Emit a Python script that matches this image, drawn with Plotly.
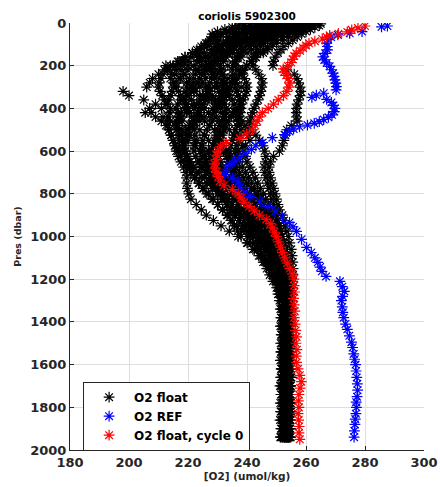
import plotly.graph_objects as go

# shared pressure levels (dbar) for the float cycles
PRES_FLOAT = [4, 12, 20, 30, 40, 52, 65, 80, 95, 110,
              125, 140, 160, 180, 200, 220, 240, 260, 280, 300,
              320, 340, 360, 380, 400, 420, 440, 460, 480, 500,
              525, 550, 575, 600, 625, 650, 675, 700, 725, 750,
              775, 800, 825, 850, 875, 900, 925, 950, 975, 1000,
              1030, 1060, 1090, 1120, 1150, 1180, 1210, 1240, 1270, 1300,
              1340, 1380, 1420, 1460, 1500, 1540, 1580, 1620, 1660, 1700,
              1740, 1780, 1820, 1860, 1900, 1940]

# O2 float cycles (umol/kg), one list per cycle
FLOAT_C01 = [265, 264.5, 263, 261.5, 260, 258.5, 257, 255.5, 254, 252.5,
             251.5, 250.5, 249.5, 249, 248.8, 253.5, 256, 257, 257.5, 258,
             258.2, 258, 257.5, 257, 256.8, 256.7, 256.8, 257, 255, 253.5,
             253, 252.5, 252, 251, 249, 248, 247.5, 247.5, 248, 248.5,
             249, 249.5, 250, 250.5, 251, 252, 252.5, 253, 253.5, 254,
             254.5, 255, 255.3, 255.5, 255.6, 255.6, 255.5, 255.4, 255.3, 255.2,
             255, 255.1, 254.9, 255, 255.2, 255, 254.8, 254.9, 255, 254.8,
             254.7, 254.9, 254.8, 254.6, 254.7, 254.5]
FLOAT_C02 = [258, 257, 255.5, 254, 252.5, 250.5, 248.5, 247, 245.5, 244.5,
             243.5, 243, 242.2, 241.8, 242, 243, 244, 245, 245.2, 245,
             244.7, 244.3, 243.8, 243, 242.4, 241.8, 241.3, 241, 241, 241.8,
             243, 244.3, 245.4, 246, 246.4, 246.2, 245.8, 246, 246.4, 246.9,
             247.4, 248, 248.5, 249, 249.5, 250, 250.5, 251, 251.5, 252,
             252.5, 253, 253.5, 253.9, 254.2, 254.4, 254.5, 254.5, 254.4, 254.3,
             254.2, 254.3, 254.1, 254.2, 254.3, 254.1, 254, 254.2, 254.1, 253.9,
             254, 253.9, 254.1, 253.8, 254, 253.9]
FLOAT_C03 = [255, 254, 252.5, 250.5, 248.5, 246.5, 244.5, 242, 240.5, 239.5,
             238.5, 237.8, 236.8, 236, 235.3, 235, 235.2, 235.6, 236, 236.2,
             236.5, 237, 237.5, 237.8, 238, 237.8, 237.4, 237, 236.5, 236,
             235.5, 235, 234.5, 234, 234.5, 235.3, 236.2, 237.5, 238.7, 240,
             241.5, 243, 244, 245, 246, 247, 247.8, 248.5, 249.3, 250,
             250.7, 251.4, 252.2, 252.7, 253.1, 253.4, 253.5, 253.6, 253.7, 253.8,
             253.8, 253.7, 253.9, 253.8, 253.6, 253.8, 253.7, 253.5, 253.7, 253.6,
             253.4, 253.6, 253.5, 253.3, 253.5, 253.4]
FLOAT_C04 = [250, 249, 247.5, 245.5, 243.5, 241.5, 239.5, 237.5, 236.5, 235.5,
             234.3, 233, 231.5, 230, 228.5, 228, 228.3, 229, 229.6, 230,
             230.5, 231, 231.7, 232.3, 233, 232.8, 232.2, 231.5, 230.8, 230.2,
             229.5, 229, 228.5, 228, 228.6, 229.4, 230.4, 231.6, 233, 234.5,
             236, 237.8, 239, 240.3, 241.5, 242.8, 243.8, 245, 246, 247,
             248, 249, 249.8, 250.5, 251, 251.6, 252, 252.4, 252.7, 252.9,
             253, 252.9, 253.1, 253, 252.8, 253, 252.9, 252.8, 253, 252.8,
             252.7, 252.9, 252.8, 252.6, 252.8, 252.7]
FLOAT_C05 = [246, 245, 243.5, 241.5, 239.5, 237.5, 235.5, 233.5, 232, 230.5,
             228, 225.5, 223.5, 220, 218, 216, 214.5, 214, 215, 216,
             216.8, 217.5, 218.4, 219.2, 220, 220.6, 221.2, 221.8, 222, 222.2,
             222.4, 222.2, 222, 222, 222.6, 223.4, 224.5, 226, 227.5, 229,
             230.5, 232, 233.5, 235, 236.5, 238, 239.3, 240.5, 241.8, 243,
             244.5, 246, 247.3, 248.3, 249.2, 250, 250.8, 251.2, 251.5, 251.8,
             252, 252.1, 251.9, 252, 252.2, 251.9, 252.1, 252, 251.8, 252,
             252.1, 251.9, 252, 251.8, 252, 251.9]
FLOAT_C06 = [241, 239, 237, 235, 233, 231, 229, 227.5, 226.5, 225.5,
             224, 223, 221, 218, 215, 213, 211.5, 210.8, 210.2, 210,
             210.5, 211.2, 212, 213, 214, 213.8, 213.3, 213, 213.2, 213.6,
             214.3, 215, 215.5, 216, 216.8, 217.6, 218.5, 219.3, 219.5, 219.6,
             219.8, 220.3, 221, 222.8, 224.5, 226.2, 228.6, 231.2, 234, 237,
             240, 242, 244, 245.5, 246.7, 247.7, 248.8, 250, 250.5, 251,
             251.3, 251.5, 251.3, 251.6, 251.4, 251.5, 251.3, 251.6, 251.4, 251.2,
             251.5, 251.3, 251.4, 251.2, 251.5, 251.3]
FLOAT_C07 = [243, 241, 238.5, 236, 234, 231.5, 229.5, 227.5, 226, 224.5,
             223, 221.5, 219, 216.5, 214, 212, 210, 208, 207, 206,
             198, 200, 205, 209, 207, 205.5, 209, 211, 212.5, 213.5,
             214.3, 215, 215.8, 216.6, 217.6, 218.7, 219.8, 221, 222.4, 223.8,
             225.4, 227, 228.6, 230.2, 231.8, 233.5, 235, 236.5, 238.2, 240,
             241.8, 243.5, 245, 246.3, 247.5, 248.6, 249.6, 250.4, 251, 251.6,
             251.9, 252.1, 252.3, 252.1, 252.4, 252.2, 252.3, 252.1, 252.4, 252.2,
             252.3, 252.1, 252.4, 252.2, 252.3, 252.1]
FLOAT_C08 = [249, 247.5, 245.5, 243.5, 241.5, 239.5, 237, 234.5, 233, 231.5,
             230, 229, 227.5, 226, 224.5, 223.5, 222.6, 221.8, 220.5, 219.5,
             219.3, 220, 221.2, 223, 225.5, 227, 228, 228.2, 227.4, 226.4,
             225.6, 225, 224.5, 224.2, 224.8, 225.8, 227.2, 228.8, 230.3, 231.8,
             233.3, 235, 236.3, 237.5, 238.8, 240, 241.3, 242.5, 243.8, 245,
             246.5, 247.8, 249, 250, 250.8, 251.5, 252, 252.5, 252.9, 253.2,
             253.3, 253.1, 253.4, 253.2, 253.3, 253.1, 253.4, 253.2, 253.1, 253.3,
             253.2, 253, 253.3, 253.1, 253.2, 253]
FLOAT_C09 = [259, 257.5, 256, 254, 252, 250, 248, 246, 244.5, 243,
             241.5, 240, 238, 236, 233.5, 231.2, 229.4, 228, 227.3, 227,
             227.3, 228.2, 229.3, 230.2, 231, 231.8, 232.5, 233, 232.7, 232.2,
             231.6, 231, 230.5, 230.2, 230.5, 231, 231.8, 233, 234.6, 236.3,
             238, 239.8, 241, 242.3, 243.6, 245, 246, 247, 248, 249,
             250, 250.8, 251.6, 252.3, 252.9, 253.4, 253.8, 254.1, 254.3, 254.5,
             254.6, 254.4, 254.7, 254.5, 254.6, 254.4, 254.5, 254.3, 254.5, 254.4,
             254.3, 254.5, 254.2, 254.4, 254.3, 254.1]
FLOAT_C10 = [239, 237, 235, 232.5, 230, 228.2, 228.5, 229.4, 230, 229.6,
             228.8, 227.8, 226, 224, 222, 220, 218.5, 217, 216, 215,
             214.6, 214.2, 213.5, 212.5, 211, 207.5, 211.5, 214, 215.8, 217,
             217.6, 218, 218.5, 219, 219.8, 220.7, 221.8, 223, 224.7, 226.4,
             228.2, 230, 231.5, 233, 234.5, 236, 237.3, 238.5, 239.8, 241,
             242.8, 244.5, 246, 247.3, 248.4, 249.5, 250.4, 251, 251.4, 251.7,
             251.8, 251.6, 251.9, 251.7, 251.8, 251.6, 251.9, 251.7, 251.8, 251.6,
             251.7, 251.9, 251.6, 251.8, 251.7, 251.5]
FLOAT_C11 = [263, 261.5, 260, 258, 256, 254, 252, 250, 248.5, 247,
             245.7, 244.5, 243, 241.5, 239.8, 238.5, 237.5, 236.5, 235, 233.5,
             233.2, 234, 235, 235.6, 236, 236.4, 236.8, 237.2, 237.6, 238,
             237.6, 237, 236.5, 236, 236.6, 237.4, 238.4, 239.5, 240.5, 241.5,
             242.5, 243.5, 244.5, 245.5, 246.5, 247.5, 248.3, 249.2, 250, 250.8,
             251.5, 252.1, 252.7, 253.2, 253.6, 254, 254.4, 254.6, 254.8, 254.9,
             255, 255.2, 254.9, 255.1, 255, 254.8, 255.1, 254.9, 255, 254.8,
             254.9, 254.7, 255, 254.8, 254.6, 254.8]
FLOAT_C12 = [253, 251.5, 250, 248, 246.5, 244.5, 242.5, 240, 238.5, 236.5,
             235, 233.5, 231.5, 229.5, 227, 225.5, 224.5, 224, 225, 226,
             226.4, 226.2, 226, 225.2, 224.4, 223.6, 222.8, 222, 221, 220,
             219.6, 219.2, 219, 219, 219.5, 220.1, 220.6, 221, 222.2, 223.6,
             225, 226.4, 228.2, 230, 231.7, 233.2, 234.5, 235.7, 236.8, 238,
             240.3, 242.5, 244.5, 246, 247.4, 248.6, 249.8, 250.7, 251.4, 252,
             252.4, 252.6, 252.5, 252.7, 252.6, 252.4, 252.7, 252.5, 252.6, 252.4,
             252.5, 252.3, 252.6, 252.4, 252.5, 252.3]
FLOAT_C13 = [245, 243.5, 242, 240.5, 239, 237.2, 236, 235, 234.3, 234,
             233.7, 233.4, 233, 232, 231, 231.3, 231.8, 232, 232.2, 232,
             231.7, 231.3, 230.8, 229.8, 228.4, 227, 225.5, 223.8, 221.6, 219.4,
             217.8, 217, 217.2, 218, 219.3, 220.6, 222, 223.8, 225.7, 227.6,
             229.5, 231.5, 233, 234.6, 236.2, 237.8, 239, 240.3, 241.6, 243,
             244.8, 246.5, 248, 249.3, 250.3, 251.2, 252, 252.6, 253, 253.3,
             253.5, 253.6, 253.4, 253.7, 253.5, 253.6, 253.4, 253.7, 253.5, 253.3,
             253.6, 253.4, 253.5, 253.3, 253.6, 253.4]
FLOAT_C14 = [256, 254.5, 253, 251.5, 250, 248, 245.5, 243, 241, 239.5,
             238.3, 237.2, 236.3, 236, 236.2, 237.2, 238.3, 239.2, 239.8, 240,
             239.8, 239.4, 238.8, 238, 237.2, 236, 234.8, 233.7, 232.8, 232,
             231, 229.8, 228.4, 227.2, 227.4, 228, 228.8, 230, 231.8, 233.5,
             235.2, 237, 238.3, 239.5, 240.8, 242, 243, 244, 245, 246,
             247.5, 248.8, 250, 250.8, 251.6, 252.2, 252.8, 253.2, 253.5, 253.7,
             253.9, 254, 254.2, 254, 253.8, 254.1, 253.9, 254, 253.8, 254,
             253.9, 254.1, 253.8, 254, 253.9, 253.7]
FLOAT_C15 = [252, 251, 249.5, 248, 246.5, 245, 244, 243, 242.3, 241,
             238.5, 235, 230.8, 228, 226, 226.5, 228.5, 230.5, 232.5, 234,
             233.8, 233, 232, 230.8, 229.5, 229, 229.5, 230.5, 232, 234,
             235.8, 237.5, 238.5, 239, 239.5, 240, 241, 242, 242.8, 243.6,
             244.5, 245.5, 246.3, 247.2, 248, 249, 249.7, 250.5, 251.2, 252,
             252.6, 253.2, 253.7, 254, 254.3, 254.6, 254.8, 254.7, 254.6, 254.5,
             254.6, 254.4, 254.5, 254.3, 254.6, 254.4, 254.5, 254.3, 254.6, 254.4,
             254.5, 254.3, 254.4, 254.6, 254.4, 254.3]
FLOAT_C16 = [247, 245.5, 243.5, 241, 238.5, 236, 233.5, 230.5, 228.5, 226.5,
             224, 221.5, 219, 217, 216, 217.6, 219, 220.5, 222, 224,
             222, 219.5, 217.5, 216.5, 216, 216.5, 217, 218, 220.5, 224,
             225.5, 227, 229.5, 232, 233, 233.6, 234.3, 235, 236.2, 237.6,
             239.2, 241, 241.8, 242.6, 243.3, 244, 245, 246, 247, 248,
             249, 250, 250.8, 251.6, 252.2, 252.7, 253, 253.1, 253, 252.9,
             252.8, 252.9, 252.7, 252.9, 252.8, 252.6, 252.9, 252.7, 252.8, 252.6,
             252.8, 252.7, 252.9, 252.6, 252.8, 252.7]
FLOAT_C17 = [260, 258.5, 257, 255.5, 254, 252, 249, 245, 241.5, 238,
             235, 232, 230, 228.8, 228, 229.5, 231.5, 233.5, 236, 238,
             236.5, 233, 228, 224.5, 222, 219.5, 217.8, 217, 216.3, 216,
             217, 220, 222.5, 225, 225.8, 226.3, 226.6, 227, 228, 229,
             230, 231, 232.3, 233.5, 234.8, 236, 237.5, 239, 240.5, 242,
             244, 246, 247.8, 249.2, 250.3, 251.2, 251.8, 252.3, 252.6, 252.9,
             253, 253.1, 252.9, 253.2, 253, 252.9, 253.1, 253, 252.8, 253,
             253.1, 252.9, 253, 252.8, 253.1, 252.9]
FLOAT_C18 = [254, 252.5, 250.5, 248.5, 246.5, 244, 241.5, 238.5, 235.5, 233,
             231, 229, 226, 223, 220, 222.5, 225.5, 226, 223.5, 221,
             222, 224, 226.5, 229.5, 233, 235, 236.8, 238.3, 239.3, 240,
             240.5, 241, 239.5, 237, 236.5, 236.2, 236, 236, 237, 238,
             239, 240, 241.5, 243, 244.5, 246, 247, 248, 249, 250,
             251, 252, 252.8, 253.3, 253.7, 254, 254.1, 254.2, 254.3, 254.2,
             254.2, 254.3, 254.1, 254.3, 254.2, 254, 254.3, 254.1, 254.2, 254,
             254.2, 254.1, 254.3, 254, 254.2, 254.1]
FLOAT_C19 = [250, 248.5, 247, 245.5, 244, 243, 241.5, 239.5, 237.5, 235,
             232, 228.5, 224, 218, 212.5, 213.5, 215.5, 217.5, 219.5, 222,
             221, 219.5, 218, 219.5, 222, 223.2, 224.4, 225.6, 227.2, 229,
             230, 231, 232, 233, 233.5, 234, 234.5, 235, 235.8, 236.6,
             237.4, 238, 238.8, 239.6, 240.3, 241, 241.8, 242.5, 243.2, 244,
             245.5, 247, 248.5, 249.7, 250.7, 251.5, 252.2, 252.6, 252.8, 253,
             253.1, 252.9, 253, 253.2, 252.9, 253.1, 253, 252.9, 253.1, 253,
             252.9, 253.1, 253, 252.8, 253, 252.9]
FLOAT_C20 = [262, 261, 260, 259, 257.5, 256, 254, 252, 250, 248.5,
             247, 245.5, 243, 241.5, 240, 239, 238, 235, 232, 229,
             227, 225, 224, 222, 219, 217.8, 216.8, 216, 216.8, 218,
             220.5, 223, 225, 227, 225.5, 224, 225, 226, 227.5, 229.5,
             231.5, 234, 235.5, 237, 238, 239, 240.5, 242, 243.5, 245,
             247, 249, 250.5, 251.5, 252.3, 252.9, 253.3, 253.6, 253.8, 253.9,
             253.9, 254, 253.8, 254.1, 253.9, 253.8, 254, 253.9, 253.7, 253.9,
             254, 253.8, 253.9, 253.7, 254, 253.8]

FLOAT_CYCLES = [FLOAT_C01, FLOAT_C02, FLOAT_C03, FLOAT_C04, FLOAT_C05, FLOAT_C06, FLOAT_C07,
                FLOAT_C08, FLOAT_C09, FLOAT_C10, FLOAT_C11, FLOAT_C12, FLOAT_C13, FLOAT_C14,
                FLOAT_C15, FLOAT_C16, FLOAT_C17, FLOAT_C18, FLOAT_C19, FLOAT_C20]

# O2 REF profile
PRES_REF = [14, 18, 40, 48, 56, 66, 78, 94, 110, 126, 142, 159, 173, 187, 203, 219, 235, 250,
            266, 282, 298, 313, 329, 338, 348, 358, 372, 386, 400, 415, 430, 442, 452, 462,
            470, 478, 486, 496, 508, 523, 537, 560, 575, 592, 610, 630, 647, 663, 685, 710,
            725, 743, 770, 790, 813, 836, 860, 883, 911, 934, 955, 976, 1013, 1051, 1075,
            1100, 1121, 1143, 1163, 1187, 1210, 1235, 1257, 1280, 1300, 1330, 1355, 1380,
            1410, 1435, 1465, 1495, 1520, 1550, 1575, 1600, 1630, 1660, 1690, 1720, 1750,
            1776, 1800, 1830, 1855, 1880, 1910, 1940]
O2_REF = [287.6, 285.6, 279, 274.8, 270.8, 268.5, 267.5, 267, 267.2, 267.3, 266.5, 265.7, 266.2,
          267, 268, 268.6, 269.2, 269.5, 269.8, 270.1, 270.3, 270.2, 266, 263.5, 262, 267,
          268.6, 269.3, 269.8, 269.6, 268.8, 267.6, 266, 264.5, 262.8, 260.5, 257.8, 255.8,
          254.4, 252.7, 248.6, 245.3, 243, 241.5, 239.5, 237.6, 235.8, 234.2, 233, 232.5,
          235, 237, 237.6, 239.5, 241, 244.4, 247, 249.5, 252, 254.4, 255.6, 256.8, 258.5,
          260.2, 261.8, 263, 264, 264.8, 265.4, 266.8, 271.5, 272.3, 273, 272.4, 272, 272.3,
          272.5, 272.8, 273.4, 274, 274.7, 275.4, 275.8, 276.2, 276.5, 276.8, 277, 277.2,
          277.4, 277.5, 277.3, 277, 277.1, 276.9, 276.7, 276.6, 276.4, 276.3]

# O2 float, cycle 0
PRES_C0 = [14, 23, 32, 42, 50, 58, 66, 75, 85, 95, 105, 117, 130, 142, 155, 170, 185, 200,
           215, 230, 245, 260, 280, 300, 320, 340, 360, 380, 400, 420, 440, 460, 480, 500,
           520, 540, 560, 580, 600, 620, 640, 660, 680, 700, 720, 740, 760, 780, 800, 820,
           840, 860, 880, 900, 920, 940, 960, 980, 1000, 1025, 1050, 1075, 1100, 1125, 1150,
           1175, 1200, 1230, 1260, 1290, 1320, 1350, 1380, 1410, 1440, 1470, 1500, 1530,
           1560, 1590, 1620, 1650, 1680, 1710, 1740, 1770, 1800, 1830, 1860, 1890, 1920, 1950]
O2_C0 = [280, 277.6, 275.5, 274, 271, 268, 267, 265.5, 263, 261, 260, 259, 258, 256.7, 256,
         255.5, 255, 253.8, 252.3, 252.5, 253.3, 254, 254.4, 254.2, 253.5, 252.4, 250.6, 249,
         247.2, 245.2, 244.2, 243.4, 242.8, 241.8, 239.8, 237.6, 233, 231, 230, 229.8, 229.5,
         229, 229.2, 229.6, 230.2, 230.8, 232.2, 235, 237, 238, 239, 240.7, 242.5, 244.2,
         246.5, 247.9, 248.7, 249.3, 250, 250.7, 251.4, 252, 252.8, 253.6, 254.5, 255.4,
         255.9, 256, 256.1, 255.8, 256, 256.2, 256, 256.3, 256.5, 256.8, 256.6, 256.9, 256.7,
         256.8, 257.3, 257.9, 258.4, 258, 257.6, 257.4, 257.6, 257.3, 257.5, 257.7, 257.6, 257.9]

X_TICKS = [180, 200, 220, 240, 260, 280, 300]
Y_TICKS = [0, 200, 400, 600, 800, 1000, 1200, 1400, 1600, 1800, 2000]

FONT = "DejaVu Sans"
DARK = "#262626"

float_x, float_y = [], []
for cyc in FLOAT_CYCLES:
    float_x.extend(cyc)
    float_y.extend(PRES_FLOAT)


def mk(color):
    return dict(symbol="asterisk-open", size=9, color=color,
                line=dict(color=color, width=1.2))


fig = go.Figure()
fig.add_trace(go.Scatter(x=float_x, y=float_y, mode="markers", name="O2 float",
                         marker=mk("black")))
fig.add_trace(go.Scatter(x=O2_REF, y=PRES_REF, mode="markers", name="O2 REF",
                         marker=mk("#0000ff")))
fig.add_trace(go.Scatter(x=O2_C0, y=PRES_C0, mode="markers", name="O2 float, cycle 0",
                         marker=mk("#ff0000")))

axis_common = dict(showgrid=True, gridcolor="#dedede", gridwidth=1, zeroline=False,
                   showline=True, linecolor=DARK, linewidth=1, ticks="inside", ticklen=4,
                   tickcolor=DARK, mirror=False, automargin=False,
                   tickfont=dict(family=FONT, size=13, color=DARK, weight="bold"))

fig.update_layout(
    width=440, height=487,
    margin=dict(l=70, r=16, t=23, b=37),
    paper_bgcolor="white", plot_bgcolor="white",
    title=dict(text="coriolis 5902300", x=0.5, xref="paper", xanchor="center",
               y=1 - 16 / 487, yanchor="middle",
               font=dict(family=FONT, size=10.5, color="black", weight="bold")),
    xaxis=dict(range=[180, 300], tickvals=X_TICKS, **axis_common,
               title=dict(text="[O2] (umol/kg)", standoff=4,
                          font=dict(family=FONT, size=10.5, color=DARK, weight="bold"))),
    yaxis=dict(range=[2000, 0], tickvals=Y_TICKS, **axis_common,
               title=dict(text="Pres (dbar)", standoff=6,
                          font=dict(family=FONT, size=9.5, color=DARK, weight="bold"))),
    legend=dict(x=0.037, y=0.16, xanchor="left", yanchor="top",
                bgcolor="white", bordercolor=DARK, borderwidth=1,
                itemwidth=40,
                font=dict(family=FONT, size=12, color="black", weight="bold")),
    showlegend=True,
)

fig.write_html("out.html",
               config={"displayModeBar": False},
               post_script="document.body.style.margin='0';"
                           "document.body.style.padding='0';"
                           "document.documentElement.style.overflow='hidden';")
